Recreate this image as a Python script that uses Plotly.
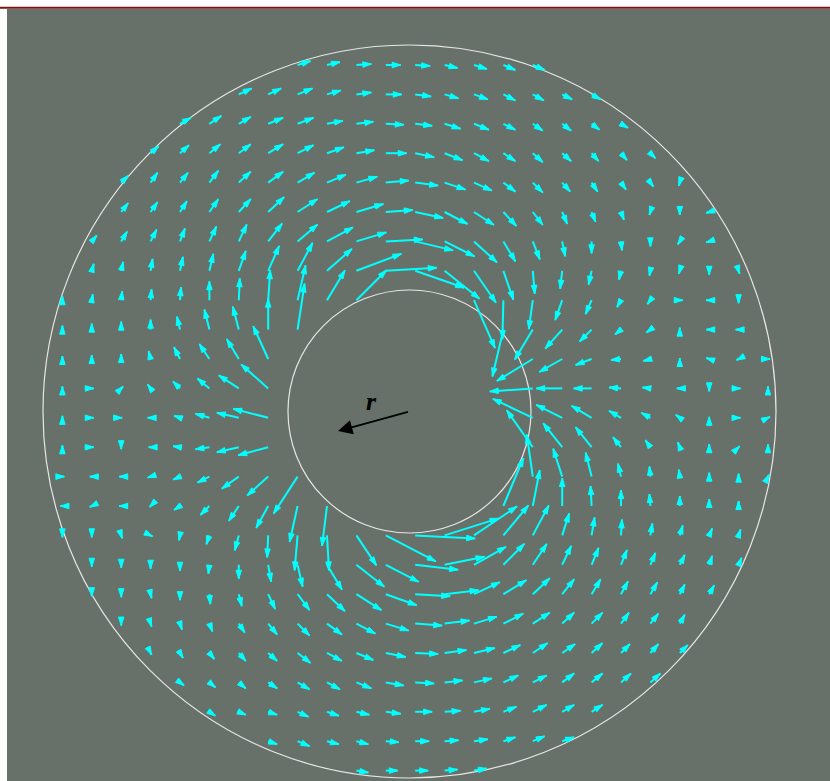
import math
import plotly.graph_objects as go

# Sampling grid (grid units: one unit = spacing between sample points)
GRID_X = list(range(-12, 13))
GRID_Y = list(range(12, -13, -1))

# Index of the first sampled column in each row (rows run top to bottom)
FIRST_COLUMN = [8, 6, 4, 3, 2, 2, 1, 1, 0, 0, 0, 0, 0, 0, 0, 0, 0, 1, 1, 2, 3, 4, 5, 7, 10]

# Field vectors (east, north) per row; None = sample inside the inner cylinder
row_00 = [(13, 4), (13, 3), (15, 1), (15, 0), (15, -1), (13, -3), (13, -4), (12, -5), (12, -5)]
row_01 = [(13, 6), (13, 6), (15, 6), (14, 4), (15, 2), (16, 0), (16, -2), (14, -4), (14, -5), (12, -6),
          (11, -6), (10, -5), (9, -5)]
row_02 = [(11, 6), (12, 8), (12, 7), (15, 6), (16, 6), (16, 3), (17, 2), (18, -1), (17, -2), (16, -5),
          (15, -6), (12, -6), (10, -7), (9, -7), (8, -6), (7, -4)]
row_03 = [(8, 7), (9, 8), (11, 9), (12, 9), (15, 9), (16, 8), (17, 6), (18, 3), (21, 0), (19, -4),
          (18, -7), (15, -8), (12, -8), (10, -9), (9, -8), (7, -8), (6, -7), (5, -5)]
row_04 = [(7, 7), (7, 10), (8, 10), (9, 12), (12, 11), (15, 11), (17, 10), (19, 8), (21, 6), (23, 2),
          (23, -3), (21, -7), (18, -8), (12, -9), (10, -10), (8, -9), (6, -9), (5, -7), (3, -4), (-1, -3)]
row_05 = [(7, 9), (7, 10), (7, 11), (9, 13), (12, 13), (16, 15), (20, 13), (23, 11), (27, 8), (27, 2),
          (28, -6), (23, -12), (20, -13), (13, -14), (10, -13), (5, -12), (4, -10), (3, -8), (-1, -3),
          (0, -3), (-3, -1)]
row_06 = [(5, 6), (6, 10), (6, 12), (5, 13), (7, 15), (8, 17), (14, 18), (20, 17), (26, 14), (30, 9),
          (37, 2), (38, -9), (30, -15), (23, -21), (12, -20), (7, -18), (3, -15), (0, -12), (1, -9),
          (0, -5), (-2, -3), (-3, -1)]
row_07 = [(2, 7), (2, 9), (2, 12), (3, 14), (4, 17), (7, 20), (11, 25), (15, 28), (25, 22), (45, 17),
          (51, 3), (49, -17), (35, -28), (22, -32), (10, -29), (2, -23), (-2, -18), (-3, -14), (-2, -9),
          (-1, -5), (-1, -3), (0, -4), (1, -3)]
row_08 = [(0, 4), (1, 6), (1, 9), (1, 11), (1, 13), (0, 19), (1, 22), (2, 30), (8, 35), (18, 30),
          (30, 30), None, None, None, (21, -48), (-1, -39), (-4, -29), (-7, -20), (-6, -14), (-4, -7),
          (-3, -4), (3, 0), (-3, 0), (0, -3)]
row_09 = [(0, 4), (0, 6), (0, 8), (0, 10), (-3, 13), (-5, 20), (-6, 23), (0, 31), (7, 46), None,
          None, None, None, None, None, (-11, -47), (-18, -30), (-17, -19), (-12, -12), (-6, -5),
          (-4, -3), (0, 2), (-3, 0), (-3, 0)]
row_10 = [(0, 3), (0, 4), (0, 5), (-2, 8), (-6, 12), (-10, 15), (-12, 20), (-15, 33), None, None,
          None, None, None, None, None, None, (-36, -22), (-23, -13), (-16, -6), (-10, -1),
          (-7, -2), (0, 1), (-3, 1), (-2, -1), (2, 0)]
row_11 = [(0, 2), (2, 0), (2, 2), (-3, 4), (-7, 7), (-12, 10), (-20, 13), (-27, 24), None, None,
          None, None, None, None, None, None, (-43, -3), (-26, 0), (-18, 0), (-12, 1),
          (-8, 1), (-3, 0), (0, -3), (2, 0), (0, 2)]
row_12 = [(0, 2), (2, 0), (1, 0), (-3, 0), (-6, 2), (-14, 4), (-22, 5), (-35, 9), None, None,
          None, None, None, None, None, None, (-40, 19), (-26, 13), (-20, 12), (-12, 7),
          (-9, 5), (-4, 3), (0, 1), (2, 0), (2, 1)]
row_13 = [(0, 2), (2, 0), (0, -2), (-2, 0), (-7, 1), (-14, -2), (-22, -5), (-30, -8), None, None,
          None, None, None, None, None, None, (-26, 37), (-19, 24), (-16, 20), (-8, 10),
          (-5, 7), (-2, 5), (0, 3), (1, 1), (0, 3)]
row_14 = [(2, 0), (-2, 0), (-2, 0), (-3, -1), (-7, -3), (-12, -6), (-17, -12), (-21, -19), (-24, -37),
          None, None, None, None, None, None, None, (-6, 42), (-9, 28), (-6, 24), (-3, 13),
          (-1, 10), (-1, 7), (0, 4), (0, 3), (1, 2)]
row_15 = [(-2, 0), (-2, -1), (-2, 0), (-1, -1), (-6, -4), (-9, -9), (-10, -15), (-12, -22), (-8, -36),
          (-5, -40), None, None, None, None, None, (20, 48), (7, 36), (0, 28), (-1, 20), (0, 16),
          (-1, 12), (0, 10), (0, 7), (0, 5)]
row_16 = [(0, -2), (0, -2), (1, -3), (2, -1), (-1, -5), (-3, -9), (-4, -15), (-1, -22), (-3, -35),
          (2, -35), (20, -30), (50, -26), (60, -3), (54, 17), (43, 29), (25, 30), (16, 30), (7, 22),
          (3, 18), (1, 16), (2, 12), (3, 10), (3, 7), (2, 6)]
row_17 = [(0, -2), (0, -3), (0, -4), (0, -6), (-1, -9), (0, -14), (3, -17), (5, -22), (15, -25),
          (28, -22), (33, -17), (43, -5), (40, 8), (32, 18), (21, 21), (14, 21), (9, 19), (7, 17),
          (6, 15), (5, 12), (5, 10), (3, 9), (3, 7)]
row_18 = [(0, -2), (0, -3), (1, -4), (0, -6), (1, -10), (3, -12), (7, -15), (12, -16), (18, -17),
          (25, -16), (31, -11), (35, -2), (34, 4), (26, 12), (23, 14), (17, 16), (12, 15), (9, 15),
          (7, 13), (7, 12), (5, 10), (5, 9)]
row_19 = [(0, -2), (1, -3), (2, -6), (3, -8), (6, -9), (9, -11), (12, -12), (15, -11), (19, -10),
          (23, -7), (27, -2), (25, 3), (23, 7), (20, 10), (17, 11), (12, 11), (11, 11), (8, 11),
          (8, 10), (5, 9)]
row_20 = [(1, -2), (3, -5), (5, -6), (7, -8), (9, -8), (13, -10), (15, -8), (17, -7), (20, -4),
          (23, -1), (22, 3), (21, 5), (17, 8), (15, 10), (13, 9), (11, 10), (9, 9), (8, 9), (8, 8)]
row_21 = [(4, -3), (6, -5), (7, -6), (9, -6), (12, -7), (13, -7), (15, -6), (18, -3), (19, -1),
          (18, 2), (18, 4), (15, 7), (14, 7), (12, 9), (11, 9), (10, 9), (10, 9)]
row_22 = [(6, -4), (7, -3), (9, -3), (11, -5), (12, -4), (13, -3), (15, -2), (17, 0), (16, 1),
          (16, 3), (13, 5), (14, 7), (12, 7), (11, 7)]
row_23 = [(9, -3), (12, -5), (12, -3), (12, -3), (13, -1), (14, 0), (14, 1), (14, 2), (12, 4),
          (12, 5), (12, 4)]
row_24 = [(12, -2), (12, 0), (13, 0), (13, 1), (13, 2)]

FIELD_ROWS = [row_00, row_01, row_02, row_03, row_04, row_05, row_06, row_07, row_08, row_09,
              row_10, row_11, row_12, row_13, row_14, row_15, row_16, row_17, row_18, row_19,
              row_20, row_21, row_22, row_23, row_24]

# Grid units per field unit when drawing arrows
VECTOR_SCALE = 1 / 29.4

# Annulus geometry (grid units)
CENTER = (-0.194, 0.214)
OUTER_RADIUS = 12.466
INNER_RADIUS = 4.133

# Radius marker drawn inside the inner cylinder
R_ARROW_TIP = (-2.626, -0.449)
R_LABEL_POS = (-1.47, 0.57)

ARROW_COLOR = "#00ffff"
BG_COLOR = "#687169"

shaft_x, shaft_y = [], []
head_x, head_y, head_angle = [], [], []
for j, row in enumerate(FIELD_ROWS):
    y0 = GRID_Y[j]
    for i, vec in enumerate(row):
        if vec is None:
            continue
        x0 = GRID_X[FIRST_COLUMN[j] + i]
        u, v = vec
        x1 = x0 + u * VECTOR_SCALE
        y1 = y0 + v * VECTOR_SCALE
        shaft_x += [x0, x1, None]
        shaft_y += [y0, y1, None]
        head_x.append(x1)
        head_y.append(y1)
        head_angle.append(math.degrees(math.atan2(u, v)))

fig = go.Figure()
fig.add_trace(go.Scatter(
    x=shaft_x, y=shaft_y, mode="lines",
    line=dict(color=ARROW_COLOR, width=2),
    hoverinfo="skip", showlegend=False,
))
fig.add_trace(go.Scatter(
    x=head_x, y=head_y, mode="markers",
    marker=dict(symbol="arrow", size=9, angle=head_angle, color=ARROW_COLOR,
                line=dict(width=1, color=ARROW_COLOR)),
    hoverinfo="skip", showlegend=False,
))

cx, cy = CENTER
shapes = []
for rad in (OUTER_RADIUS, INNER_RADIUS):
    shapes.append(dict(type="circle", xref="x", yref="y",
                       x0=cx - rad, x1=cx + rad, y0=cy - rad, y1=cy + rad,
                       line=dict(color="#e6e6e6", width=1.2), layer="below"))
# thin dark-red rule along the top edge
shapes.append(dict(type="line", xref="paper", yref="paper", x0=-0.01, x1=1, y0=1.0017, y1=1.0017,
                   line=dict(color="#7a1414", width=2)))

annotations = [
    dict(x=R_ARROW_TIP[0], y=R_ARROW_TIP[1], ax=cx, ay=cy, xref="x", yref="y",
         axref="x", ayref="y", text="", showarrow=True, arrowhead=2, arrowsize=1.6,
         arrowwidth=1.8, arrowcolor="black"),
    dict(x=R_LABEL_POS[0], y=R_LABEL_POS[1], xref="x", yref="y", text="<b><i>r</i></b>",
         showarrow=False, font=dict(family="Liberation Serif", size=26, color="black")),
]

fig.update_layout(
    width=830, height=781,
    margin=dict(l=7, r=0, t=9, b=0),
    paper_bgcolor="white", plot_bgcolor=BG_COLOR,
    xaxis=dict(range=[-13.884, 14.109], visible=False, fixedrange=True),
    yaxis=dict(range=[-12.354, 13.905], visible=False, fixedrange=True),
    shapes=shapes, annotations=annotations,
    showlegend=False,
)

fig.write_html("out.html")
